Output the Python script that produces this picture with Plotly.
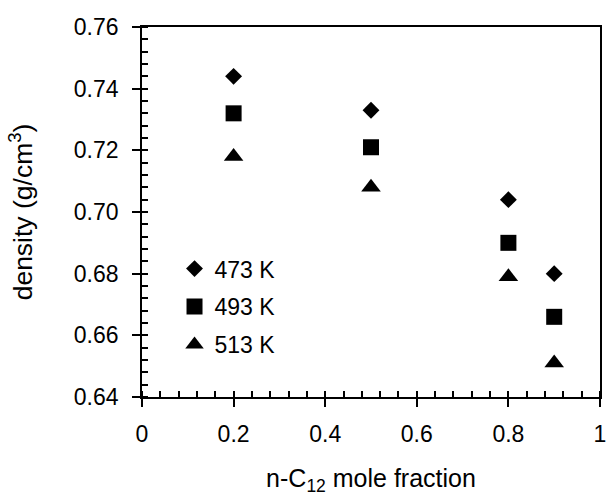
import plotly.graph_objects as go

# Data
mole_fraction = [0.2, 0.5, 0.8, 0.9]
density_473K = [0.744, 0.733, 0.704, 0.680]
density_493K = [0.732, 0.721, 0.690, 0.666]
density_513K = [0.718, 0.708, 0.679, 0.651]
series_names = ["473 K", "493 K", "513 K"]

FONT = "Liberation Sans, Arial, sans-serif"
FS = 23

fig = go.Figure()
styles = [("diamond", 13), ("square", 16), ("triangle-up", 17)]
for name, vals, (sym, sz) in zip(series_names, [density_473K, density_493K, density_513K], styles):
    fig.add_trace(go.Scatter(
        x=mole_fraction, y=vals, mode="markers", name=name, legendgroup=name,
        marker=dict(symbol=sym, size=sz, color="black", line=dict(width=0)),
    ))

# invisible trace to host overlay axes (inside part of crossing major ticks)
fig.add_trace(go.Scatter(x=[], y=[], xaxis="x2", yaxis="y2", showlegend=False, hoverinfo="skip"))

axis_common = dict(showline=True, linecolor="black", linewidth=1.8, mirror=True,
                   showgrid=False, zeroline=False, ticks="outside", ticklen=8,
                   tickwidth=1.5, tickcolor="black", automargin=False,
                   tickfont=dict(family=FONT, size=FS, color="black"))

fig.update_layout(
    width=608, height=498,
    margin=dict(l=142, r=8, t=27, b=101),
    paper_bgcolor="white", plot_bgcolor="white",
    font=dict(family=FONT, size=FS, color="black"),
    xaxis=dict(range=[0, 1], dtick=0.2, tick0=0,
               minor=dict(dtick=0.04, ticks="inside", ticklen=6, tickwidth=1.5, tickcolor="black"),
               ticklabelstandoff=7,
               title=dict(text="n-C<sub>12</sub> mole fraction", standoff=24,
                          font=dict(family=FONT, size=25)),
               **axis_common),
    yaxis=dict(range=[0.64, 0.76], dtick=0.02, tick0=0.64, tickformat=".2f",
               minor=dict(dtick=0.004, ticks="inside", ticklen=6, tickwidth=1.5, tickcolor="black"),
               ticklabelstandoff=9,
               title=dict(text="density (g/cm<sup>3</sup>)", standoff=33,
                          font=dict(family=FONT, size=26.5)),
               **axis_common),
    xaxis2=dict(overlaying="x", anchor="y", range=[0, 1], dtick=0.2, tick0=0,
                ticks="inside", ticklen=6, tickwidth=1.5, tickcolor="black",
                showticklabels=False, showline=False, showgrid=False, zeroline=False),
    yaxis2=dict(overlaying="y", anchor="x", range=[0.64, 0.76], dtick=0.02, tick0=0.64,
                ticks="inside", ticklen=6, tickwidth=1.5, tickcolor="black",
                showticklabels=False, showline=False, showgrid=False, zeroline=False),
    showlegend=True,
    legend=dict(x=0.071, xanchor="left", y=0.405, yanchor="top",
                bgcolor="rgba(0,0,0,0)", borderwidth=0, tracegroupgap=5,
                itemsizing="trace", font=dict(family=FONT, size=FS)),
)

# remove the default 8px page margin so the figure fills the 608x498 window exactly
fig.write_html("out.html",
               config={"displayModeBar": False},
               post_script="document.body.style.margin='0';document.body.style.overflow='hidden';")
